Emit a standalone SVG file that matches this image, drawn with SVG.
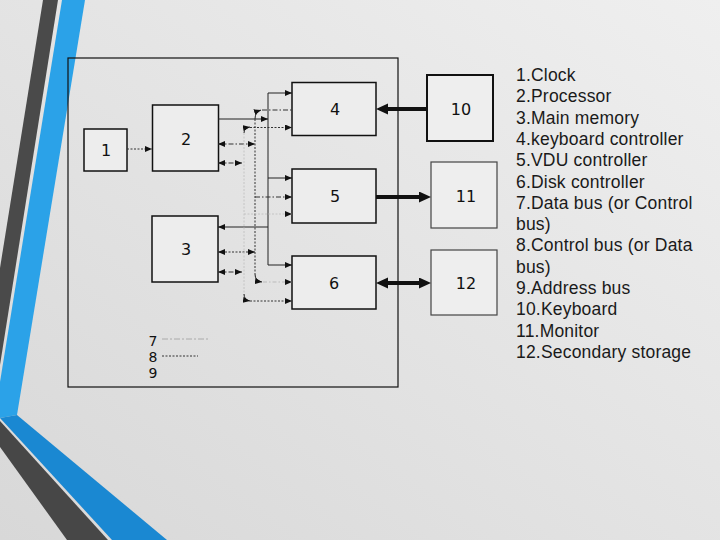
<svg xmlns="http://www.w3.org/2000/svg" width="720" height="540" viewBox="0 0 720 540">
<defs>
<linearGradient id="bg" x1="1" y1="0" x2="0" y2="1">
<stop offset="0" stop-color="#efefef"/>
<stop offset="1" stop-color="#d8d8d8"/>
</linearGradient>
<marker id="a" markerUnits="userSpaceOnUse" markerWidth="8" markerHeight="7" refX="7" refY="3" orient="auto-start-reverse">
<path d="M0,0 L7,3 L0,6 z" fill="#111"/>
</marker>
<marker id="b" markerUnits="userSpaceOnUse" markerWidth="13" markerHeight="12" refX="1" refY="5.5" orient="auto-start-reverse">
<path d="M0,0 L12,5.5 L0,11 z" fill="#111"/>
</marker>
<style>
.box{fill:#ededed;stroke:#111;stroke-width:1.5}
.box2{fill:#eeeeee;stroke:#444;stroke-width:1.2}
.lbl{font-family:"DejaVu Sans",sans-serif;font-size:16px;fill:#111;text-anchor:middle;dominant-baseline:central}
.leg{font-family:"DejaVu Sans",sans-serif;font-size:14px;fill:#111;text-anchor:middle}
.list{font-family:"Liberation Sans",Arial,sans-serif;font-size:17.5px;fill:#1a1a1a;letter-spacing:0.2px}
.s{stroke:#222;stroke-width:1;fill:none}
.d7{stroke:#333;stroke-width:1;stroke-dasharray:5,2,1.5,2;fill:none}
.d8{stroke:#333;stroke-width:1;stroke-dasharray:2,1.5;fill:none}
.faint{stroke:#bbb;stroke-width:1;stroke-dasharray:4,2,1.5,2;fill:none}
.faint8{stroke:#c4c4c4;stroke-width:1;stroke-dasharray:2,1.5;fill:none}
.thick{stroke:#111;stroke-width:4;fill:none}
</style>
</defs>
<rect width="720" height="540" fill="url(#bg)"/>
<!-- decorative stripes -->
<polygon points="43,0 58,0 0,365 0,268" fill="#4a4a4a"/>
<polygon points="62,0 85,0 17,415 0,418 0,382" fill="#2ba2e8"/>
<polygon points="17,415 167,540 112,540 0,418" fill="#1a88d2"/>
<polygon points="0,421 108,540 67,540 0,447" fill="#474747"/>
<!-- frame -->
<rect x="68" y="58" width="330" height="329" fill="none" stroke="#111" stroke-width="1.2"/>
<!-- nodes -->
<g id="n1"><rect class="box" x="84" y="129" width="43" height="42"/><text class="lbl" x="106" y="150">1</text></g>
<g id="n2"><rect class="box" x="152.5" y="105" width="66" height="66"/><text class="lbl" x="186" y="139">2</text></g>
<g id="n3"><rect class="box" x="152" y="216" width="66" height="66"/><text class="lbl" x="186" y="249">3</text></g>
<g id="n4"><rect class="box" x="292" y="82.5" width="84" height="53"/><text class="lbl" x="335" y="109">4</text></g>
<g id="n5"><rect class="box" x="292" y="169" width="84" height="54"/><text class="lbl" x="335" y="196">5</text></g>
<g id="n6"><rect class="box" x="292" y="256" width="84" height="53"/><text class="lbl" x="334" y="283">6</text></g>
<g id="n10"><rect x="427" y="75" width="66" height="66" fill="#eeeeee" stroke="#111" stroke-width="2"/><text class="lbl" x="461" y="109">10</text></g>
<g id="n11"><rect class="box2" x="431" y="162" width="66" height="66"/><text class="lbl" x="466" y="196">11</text></g>
<g id="n12"><rect class="box2" x="431" y="250" width="66" height="65"/><text class="lbl" x="466" y="283">12</text></g>
<!-- connectors -->
<g id="connectors">
<line class="d8" x1="127" y1="149" x2="152" y2="149" marker-end="url(#a)"/>
<line class="s" x1="268" y1="93" x2="268" y2="265"/>
<line class="s" x1="268" y1="93" x2="292" y2="93" marker-end="url(#a)"/>
<line class="s" x1="218" y1="119" x2="268" y2="119" marker-end="url(#a)"/>
<line class="s" x1="268" y1="178" x2="292" y2="178" marker-end="url(#a)"/>
<line class="s" x1="268" y1="227" x2="218" y2="227" marker-end="url(#a)"/>
<line class="s" x1="268" y1="265" x2="292" y2="265" marker-end="url(#a)"/>
<line class="d8" x1="255" y1="119" x2="255" y2="274"/>
<path class="s" d="M255,119 Q255,112 261,110" marker-end="url(#a)"/>
<line class="d7" x1="262" y1="110" x2="292" y2="110"/>
<line class="d7" x1="218" y1="144" x2="255" y2="144" marker-start="url(#a)" marker-end="url(#a)"/>
<line class="d7" x1="255" y1="197" x2="292" y2="197" marker-end="url(#a)"/>
<line class="d8" x1="218" y1="252" x2="255" y2="252" marker-start="url(#a)" marker-end="url(#a)"/>
<path class="s" d="M255,274 Q255,281 262,282" marker-end="url(#a)"/>
<line class="faint" x1="263" y1="282" x2="292" y2="282" marker-end="url(#a)"/>
<line class="faint8" x1="244" y1="133" x2="244" y2="295"/>
<path class="s" d="M244,133 Q244,128 250,127" marker-end="url(#a)"/>
<line class="d8" x1="250" y1="127.5" x2="292" y2="127.5" marker-end="url(#a)"/>
<line class="d7" x1="218" y1="163" x2="242" y2="163" marker-start="url(#a)" marker-end="url(#a)"/>
<line class="faint8" x1="244" y1="214" x2="292" y2="214" marker-end="url(#a)"/>
<line class="d7" x1="218" y1="272" x2="242" y2="272" marker-start="url(#a)" marker-end="url(#a)"/>
<path class="s" d="M244,294 Q244,300 250,301" marker-end="url(#a)"/>
<line class="d8" x1="250" y1="301" x2="292" y2="301" marker-end="url(#a)"/>
<line class="thick" x1="427" y1="109" x2="387" y2="109" marker-end="url(#b)"/>
<line class="thick" x1="376" y1="197" x2="420" y2="197" marker-end="url(#b)"/>
<line class="thick" x1="387" y1="283" x2="420" y2="283" marker-start="url(#b)" marker-end="url(#b)"/>
<line x1="162" y1="339" x2="210" y2="339" stroke="#aaa" stroke-width="1" stroke-dasharray="6,2,2,2"/>
<line class="d8" x1="162" y1="356" x2="198" y2="356"/>
</g>
<text class="leg" x="153" y="346">7</text>
<text class="leg" x="153" y="362">8</text>
<text class="leg" x="153" y="378">9</text>
<g class="list">
<text x="516" y="81">1.Clock</text>
<text x="516" y="102.3">2.Processor</text>
<text x="516" y="123.6">3.Main memory</text>
<text x="516" y="144.9">4.keyboard controller</text>
<text x="516" y="166.2">5.VDU controller</text>
<text x="516" y="187.5">6.Disk controller</text>
<text x="516" y="208.8">7.Data bus (or Control</text>
<text x="516" y="230.1">bus)</text>
<text x="516" y="251.4">8.Control bus (or Data</text>
<text x="516" y="272.7">bus)</text>
<text x="516" y="294">9.Address bus</text>
<text x="516" y="315.3">10.Keyboard</text>
<text x="516" y="336.6">11.Monitor</text>
<text x="516" y="358">12.Secondary storage</text>
</g>
</svg>
